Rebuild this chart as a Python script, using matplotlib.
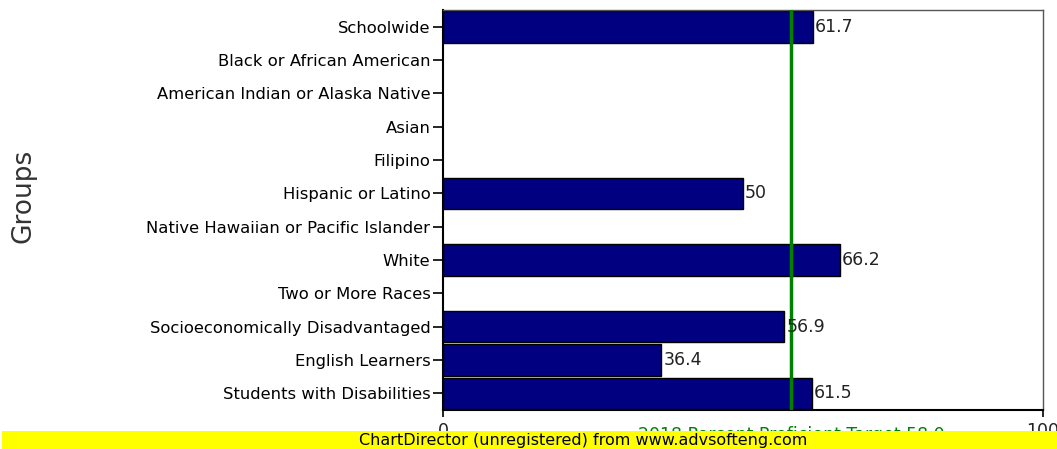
import matplotlib
matplotlib.use('Agg')
import matplotlib.pyplot as plt
from matplotlib.patches import Rectangle

# data
groups = ['Schoolwide', 'Black or African American', 'American Indian or Alaska Native',
          'Asian', 'Filipino', 'Hispanic or Latino', 'Native Hawaiian or Pacific Islander',
          'White', 'Two or More Races', 'Socioeconomically Disadvantaged',
          'English Learners', 'Students with Disabilities']
values = [61.7, None, None, None, None, 50, None, 66.2, None, 56.9, 36.4, 61.5]
target = 58.0
targetLabel = '2018 Percent Proficient Target 58.0'

W, H = 1057, 449
fig = plt.figure(figsize=(W / 100, H / 100), dpi=100)
ax = fig.add_axes([443 / W, 1 - 410 / H, 600 / W, 400 / H])

ypos = list(range(len(groups)))
for y, v in zip(ypos, values):
    if v is None:
        continue
    ax.barh(y, v, height=0.95, color='#000080', edgecolor='black', lw=1, zorder=2)
    lbl = ('%g' % v)
    ax.text(v + 0.3, y, lbl, va='center', ha='left', fontsize=12.5, color='#222222', zorder=4)

ax.axvline(target, color='#008000', lw=2.5, zorder=3)

ax.set_xlim(0, 100)
ax.set_ylim(len(groups) - 0.5, -0.5)
ax.set_yticks(ypos)
ax.set_yticklabels(groups, fontsize=11.8)
ax.set_xticks([0, 100])
ax.set_xticklabels(['0', '100'], fontsize=12.5, color='#222222')
ax.tick_params(axis='y', length=7, width=1.2, pad=2)
ax.tick_params(axis='x', length=5, width=1.2, pad=4)

for s in ['left', 'bottom']:
    ax.spines[s].set_linewidth(1.5)
    ax.spines[s].set_color('black')
for s in ['top', 'right']:
    ax.spines[s].set_linewidth(1)
    ax.spines[s].set_color('#555555')

# y axis title
fig.text(23 / W, 1 - 196 / H, 'Groups', rotation=90, ha='center', va='center',
         fontsize=19, color='#333333')

# target label below the axis, mostly hidden under the banner
ax.text(target, -0.04, targetLabel, transform=ax.get_xaxis_transform(),
        ha='center', va='top', fontsize=12.5, color='#008000', clip_on=False)

# yellow ChartDirector banner
banner = Rectangle((2 / W, 0), 1 - 2 / W, 18 / H, transform=fig.transFigure,
                   facecolor='#ffff00', edgecolor='none', zorder=10)
fig.patches.append(banner)
fig.text(583 / W, 9 / H, 'ChartDirector (unregistered) from www.advsofteng.com',
         ha='center', va='center', fontsize=11.5, color='black', zorder=11)

fig.savefig('out.png', dpi=100)
